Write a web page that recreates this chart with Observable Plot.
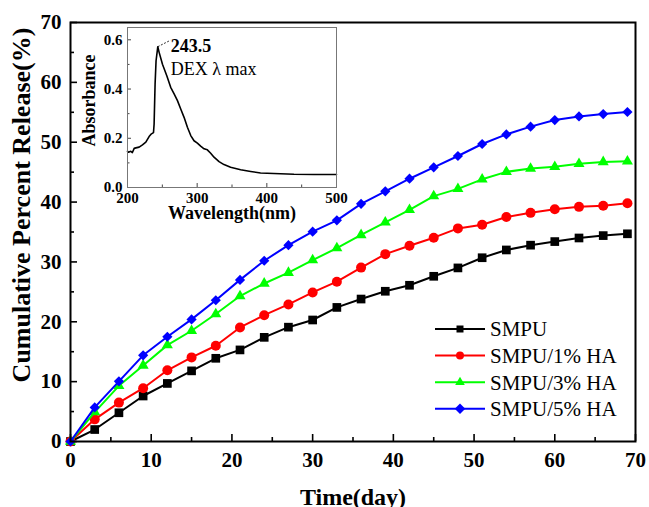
<!DOCTYPE html>
<html><head><meta charset="utf-8">
<script src="https://cdn.jsdelivr.net/npm/d3@7"></script>
<script src="https://cdn.jsdelivr.net/npm/@observablehq/plot@0.6"></script>
<style>
body{margin:0;background:#fff;}
#wrap{position:relative;width:649px;height:507px;overflow:hidden;background:#fff;}
#wrap svg{position:absolute;}
</style></head><body><div id="wrap"></div>
<script>
// ---- main chart data ----
const days = [0,3,6,9,12,15,18,21,24,27,30,33,36,39,42,45,48,51,54,57,60,63,66,69];
const smpu = [0,2.0,4.8,7.6,9.7,11.8,13.9,15.3,17.4,19.1,20.3,22.4,23.8,25.1,26.1,27.6,29.0,30.7,32.0,32.8,33.4,34.0,34.4,34.7];
const ha1  = [0,3.7,6.5,8.9,11.9,14.05,16.0,19.05,21.1,22.9,24.9,26.7,29.05,31.3,32.7,34.05,35.6,36.2,37.5,38.2,38.8,39.2,39.4,39.8];
const ha3  = [0,4.9,9.3,12.7,16.1,18.5,21.3,24.3,26.4,28.2,30.3,32.3,34.5,36.6,38.7,41.0,42.2,43.8,45.05,45.6,45.9,46.4,46.7,46.8];
const ha5  = [0,5.7,10.05,14.4,17.5,20.4,23.6,27.0,30.2,32.8,35.05,36.95,39.7,41.8,43.9,45.8,47.7,49.7,51.3,52.6,53.7,54.3,54.7,55.05];
const seriesNames = ["SMPU","SMPU/1% HA","SMPU/3% HA","SMPU/5% HA"];
const seriesColors = ["#000000","#ff0000","#00ff00","#0000ff"];
const seriesSymbols = ["square","circle","triangle","diamond2"];
const xTicks = [0,10,20,30,40,50,60,70];
const xMinor = [5,15,25,35,45,55,65];
const yTicks = [0,10,20,30,40,50,60,70];
const yMinor = [5,15,25,35,45,55,65];
const xTitle = "Time(day)";
const yTitle = "Cumulative Percent Release(%)";

// ---- inset data ----
const wavelength = [200,201.4,204.8,207,209.6,212,216.7,221.5,226.3,231,234.4,237.3,238.2,239.6,241,243.5,245.4,250.2,256.4,262,266.9,271.7,276.4,281.2,286,290.8,295.5,300.3,305,309.9,314.6,319.4,324.2,331.4,338.5,348,362.4,376.8,391,410,438.9,467.5,500];
const absorbance = [0.147,0.143,0.147,0.142,0.159,0.161,0.164,0.173,0.184,0.207,0.218,0.223,0.258,0.42,0.515,0.572,0.549,0.501,0.454,0.407,0.380,0.353,0.319,0.285,0.245,0.211,0.19,0.18,0.168,0.157,0.153,0.139,0.123,0.105,0.093,0.082,0.072,0.065,0.059,0.057,0.054,0.053,0.053];
const insetXTicks = [200,300,400,500];
const insetXMinor = [250,350,450];
const insetYTicks = [0,0.2,0.4,0.6];
const insetYMinor = [0.1,0.3,0.5];
const peakLabel = "243.5";
const peakNote = "DEX λ max";
const peak = {w: 243.5, a: 0.572};

const serif = "'Liberation Serif','Times New Roman',serif";

// ---- main plot ----
const W = 649, H = 507, mL = 70, mR = 14, mT = 22, mB = 66;
const frameW = W - mL - mR, frameH = H - mT - mB;
const release = [smpu, ha1, ha3, ha5];
const rows = release.flatMap((vals, s) => vals.map((v, i) => ({day: days[i], value: v, series: seriesNames[s]})));

const seriesMarks = seriesNames.flatMap((name, s) => {
  const d = rows.filter(r => r.series === name);
  const r = [4.9, 5, 4.1, 4.6][s];
  return [
    Plot.line(d, {x: "day", y: "value", stroke: seriesColors[s], strokeWidth: 2}),
    Plot.dot(d, {x: "day", y: "value", symbol: seriesSymbols[s], r, fill: seriesColors[s], stroke: "none"})
  ];
});

const main = Plot.plot({
  width: W, height: H, marginLeft: mL, marginRight: mR, marginTop: mT, marginBottom: mB,
  x: {domain: [0, 70]}, y: {domain: [0, 70]},
  style: {fontFamily: serif, background: "none", overflow: "visible", color: "black"},
  marks: [
    Plot.ruleX(xTicks, {insetTop: frameH - 7, stroke: "black", strokeWidth: 1.6}),
    Plot.ruleX(xMinor, {insetTop: frameH - 4, stroke: "black", strokeWidth: 1.6}),
    Plot.ruleY(yTicks, {insetRight: frameW - 7, stroke: "black", strokeWidth: 1.6}),
    Plot.ruleY(yMinor, {insetRight: frameW - 4, stroke: "black", strokeWidth: 1.6}),
    Plot.axisX({ticks: xTicks, tickSize: 0, tickPadding: 11, fontSize: 21, fontWeight: "bold", label: null}),
    Plot.axisY({ticks: yTicks, tickSize: 0, tickPadding: 9, fontSize: 21, fontWeight: "bold", label: null}),
    Plot.text([xTitle], {text: d => d, frameAnchor: "bottom", dy: 56, fontSize: 24, fontWeight: "bold", textAnchor: "middle", lineAnchor: "middle"}),
    Plot.text([yTitle], {text: d => d, frameAnchor: "left", rotate: -90, dx: -49, dy: -27, fontSize: 26, fontWeight: "bold", textAnchor: "middle", lineAnchor: "middle"}),
    ...seriesMarks,
    Plot.frame({stroke: "black", strokeWidth: 2})
  ]
});
main.style.left = "0px"; main.style.top = "0px";
document.getElementById("wrap").appendChild(main);

// legend
const lg = d3.select(main).append("g").attr("font-family", serif).attr("font-size", 21).attr("text-anchor", "start");
const legendSyms = [d3.symbolSquare, d3.symbolCircle, d3.symbolTriangle, d3.symbolDiamond2];
const legendSizes = [49, 50, 40, 70];
seriesNames.forEach((name, s) => {
  const y = 329 + s * 26.6;
  lg.append("line").attr("x1", 435).attr("x2", 485).attr("y1", y).attr("y2", y)
    .attr("stroke", seriesColors[s]).attr("stroke-width", 2);
  lg.append("path").attr("transform", `translate(460,${y})`)
    .attr("d", d3.symbol(legendSyms[s], legendSizes[s])()).attr("fill", seriesColors[s]);
  lg.append("text").attr("x", 490).attr("y", y).attr("dy", "0.35em").attr("fill", "black").text(name);
});

// ---- inset plot ----
const iW = 280, iH = 215, iL = 57, iR = 14, iT = 5, iB = 50;
const iFW = iW - iL - iR, iFH = iH - iT - iB;
const spectrum = wavelength.map((w, i) => ({w, a: absorbance[i]}));
const inset = Plot.plot({
  width: iW, height: iH, marginLeft: iL, marginRight: iR, marginTop: iT, marginBottom: iB,
  x: {domain: [200, 500]}, y: {domain: [0, 0.65]},
  style: {fontFamily: serif, background: "none", overflow: "visible", color: "black"},
  marks: [
    Plot.ruleX(insetXTicks, {insetTop: iFH - 4, stroke: "#444"}),
    Plot.ruleX(insetXMinor, {insetTop: iFH - 2.5, stroke: "#444"}),
    Plot.ruleY(insetYTicks, {insetRight: iFW - 4, stroke: "#444"}),
    Plot.ruleY(insetYMinor, {insetRight: iFW - 2.5, stroke: "#444"}),
    Plot.axisX({ticks: insetXTicks, tickSize: 0, tickPadding: 5, fontSize: 15, fontWeight: "bold", tickFormat: d3.format("d"), label: null}),
    Plot.axisY({ticks: insetYTicks, tickSize: 0, tickPadding: 5, fontSize: 15, fontWeight: "bold", tickFormat: d3.format(".1f"), label: null}),
    Plot.text(["Wavelength(nm)"], {text: d => d, frameAnchor: "bottom", dy: 26, fontSize: 18, fontWeight: "bold", textAnchor: "middle", lineAnchor: "middle"}),
    Plot.text(["Absorbance"], {text: d => d, frameAnchor: "left", rotate: -90, dx: -38, dy: -7, fontSize: 18, fontWeight: "bold", textAnchor: "middle", lineAnchor: "middle"}),
    Plot.line(spectrum, {x: "w", y: "a", stroke: "black", strokeWidth: 1.6}),
    Plot.link([peak], {x1: "w", y1: "a", x2: d => d.w + 18, y2: d => d.a + 0.026, stroke: "black", strokeWidth: 0.8, strokeDasharray: "2,1.5"}),
    Plot.text([peak], {x: "w", y: "a", text: () => peakLabel, dx: 13, dy: 0, textAnchor: "start", lineAnchor: "middle", fontSize: 18, fontWeight: "bold"}),
    Plot.text([peak], {x: "w", y: "a", text: () => peakNote, dx: 13, dy: 23, textAnchor: "start", lineAnchor: "middle", fontSize: 18}),
    Plot.frame({stroke: "#777", strokeWidth: 1})
  ]
});
inset.style.left = "70px"; inset.style.top = "22px";
document.getElementById("wrap").appendChild(inset);
</script></body></html>
